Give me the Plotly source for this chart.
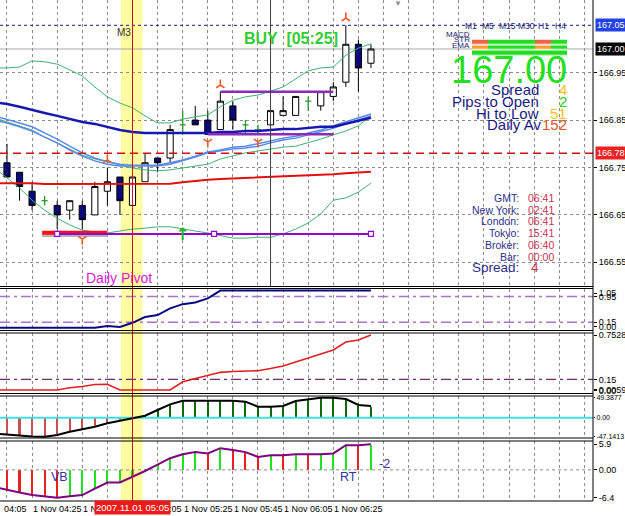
import plotly.graph_objects as go
import pandas as pd

# ---------------- data ----------------
times = [
    "2007-11-01 04:10", "2007-11-01 04:15", "2007-11-01 04:20", "2007-11-01 04:25", "2007-11-01 04:30",
    "2007-11-01 04:35", "2007-11-01 04:40", "2007-11-01 04:45", "2007-11-01 04:50", "2007-11-01 04:55",
    "2007-11-01 05:00", "2007-11-01 05:05", "2007-11-01 05:10", "2007-11-01 05:15", "2007-11-01 05:20",
    "2007-11-01 05:25", "2007-11-01 05:30", "2007-11-01 05:35", "2007-11-01 05:40", "2007-11-01 05:45",
    "2007-11-01 05:50", "2007-11-01 05:55", "2007-11-01 06:00", "2007-11-01 06:05", "2007-11-01 06:10",
    "2007-11-01 06:15", "2007-11-01 06:20", "2007-11-01 06:25", "2007-11-01 06:30", "2007-11-01 06:35",
    "2007-11-01 06:40"]
candle_times = times[1:]

opens = [166.76, 166.74, 166.70, 166.68, 166.67, 166.66, 166.67, 166.65, 166.70, 166.73,
         166.67, 166.72, 166.77, 166.77, 166.84, 166.85, 166.85, 166.83, 166.88, 166.84,
         166.83, 166.84, 166.86, 166.86, 166.89, 166.88, 166.90, 166.93, 167.01, 166.97]
highs = [166.80, 166.74, 166.72, 166.69, 166.68, 166.68, 166.68, 166.72, 166.75, 166.73,
         166.73, 166.78, 166.77, 166.84, 166.87, 166.88, 166.87, 166.91, 166.89, 166.85,
         166.84, 166.87, 166.90, 166.90, 166.90, 166.91, 166.93, 167.05, 167.02, 167.01]
lows = [166.73, 166.68, 166.66, 166.67, 166.62, 166.64, 166.62, 166.65, 166.67, 166.65,
        166.67, 166.72, 166.74, 166.76, 166.82, 166.84, 166.82, 166.83, 166.83, 166.82,
        166.82, 166.84, 166.86, 166.86, 166.87, 166.87, 166.89, 166.92, 166.91, 166.96]
closes = [166.73, 166.71, 166.67, 166.68, 166.65, 166.68, 166.64, 166.71, 166.72, 166.68,
          166.73, 166.76, 166.76, 166.83, 166.84, 166.84, 166.82, 166.89, 166.85, 166.84,
          166.83, 166.87, 166.87, 166.90, 166.89, 166.91, 166.92, 167.01, 166.96, 167.00]

bb_upper = [166.960, 166.960, 166.962, 166.975, 166.973, 166.968, 166.956, 166.943, 166.920, 166.899,
            166.886, 166.876, 166.859, 166.844, 166.844, 166.852, 166.857, 166.861, 166.878, 166.892,
            166.899, 166.903, 166.911, 166.920, 166.937, 166.954, 166.960, 166.962, 166.987, 167.002, 167.011]
bb_lower = [166.749, 166.728, 166.707, 166.681, 166.660, 166.643, 166.629, 166.618, 166.614, 166.612,
            166.616, 166.620, 166.622, 166.625, 166.625, 166.620, 166.616, 166.612, 166.606, 166.601,
            166.601, 166.603, 166.603, 166.610, 166.620, 166.633, 166.652, 166.681, 166.686, 166.698, 166.717]
bb_mid = [166.855, 166.846, 166.838, 166.829, 166.814, 166.802, 166.789, 166.776, 166.768, 166.762,
          166.755, 166.749, 166.745, 166.743, 166.745, 166.749, 166.753, 166.757, 166.768, 166.774,
          166.781, 166.785, 166.789, 166.793, 166.795, 166.802, 166.810, 166.819, 166.827, 166.838, 166.859]
ema_fast_a = [166.859, 166.852, 166.844, 166.836, 166.823, 166.810, 166.795, 166.781, 166.770, 166.762,
              166.757, 166.755, 166.755, 166.755, 166.760, 166.766, 166.774, 166.783, 166.787, 166.793,
              166.795, 166.800, 166.806, 166.812, 166.816, 166.823, 166.829, 166.838, 166.846, 166.855, 166.863]
ema_fast_b = [166.850, 166.844, 166.836, 166.827, 166.814, 166.802, 166.787, 166.774, 166.764, 166.757,
              166.753, 166.753, 166.753, 166.753, 166.757, 166.764, 166.772, 166.781, 166.785, 166.789,
              166.791, 166.795, 166.802, 166.808, 166.812, 166.819, 166.825, 166.833, 166.842, 166.850, 166.859]
ema_slow = [166.888, 166.884, 166.878, 166.871, 166.865, 166.859, 166.852, 166.846, 166.842, 166.836,
            166.829, 166.825, 166.823, 166.823, 166.823, 166.823, 166.823, 166.823, 166.825, 166.825,
            166.827, 166.827, 166.829, 166.831, 166.831, 166.833, 166.836, 166.836, 166.842, 166.848, 166.855]
ma_red = [166.717, 166.717, 166.717, 166.717, 166.715, 166.715, 166.715, 166.715, 166.715, 166.715,
          166.716, 166.716, 166.716, 166.716, 166.716, 166.719, 166.722, 166.724, 166.726, 166.727,
          166.728, 166.729, 166.730, 166.731, 166.732, 166.733, 166.734, 166.736, 166.738, 166.739, 166.741]

pivot_price = 166.61
pivot_times = ["2007-11-01 04:35", "2007-11-01 05:37:30", "2007-11-01 06:40"]
daily_pivot_seg = ["2007-11-01 04:29", "2007-11-01 04:55"]
daily_pivot_price = 166.6125
box_top_times = ["2007-11-01 05:40", "2007-11-01 06:25"]
box_top_price = 166.91
box_bot_times = ["2007-11-01 05:35", "2007-11-01 06:25"]
box_bot_price = 166.82
ask_price, bid_price, open_price = 167.05, 167.00, 166.78

up_frac_t = ["2007-11-01 04:55", "2007-11-01 05:40", "2007-11-01 06:30"]
up_frac_p = [166.766, 166.924, 167.065]
dn_frac_t = ["2007-11-01 04:45", "2007-11-01 05:35", "2007-11-01 05:55"]
dn_frac_p = [166.599, 166.804, 166.804]
buy_arrow_t, buy_arrow_p = "2007-11-01 05:25", 166.607

p2_line = [-0.02, -0.02, -0.02, -0.02, -0.02, -0.02, -0.02, -0.02, -0.02, 0.03,
           0.0, 0.13, 0.31, 0.37, 0.58, 0.71, 0.76, 0.89, 1.13, 1.13,
           1.13, 1.13, 1.13, 1.13, 1.13, 1.13, 1.13, 1.13, 1.13, 1.13, 1.13]
p2_levels = [0.95, 0.15]
p3_line = [0.0059, 0.0059, 0.0059, 0.0059, 0.0059, 0.0059, 0.037, 0.053, 0.080, 0.083,
           0.0059, 0.0059, 0.0059, 0.0059, 0.0059, 0.118, 0.162, 0.196, 0.246, 0.257,
           0.264, 0.268, 0.298, 0.332, 0.386, 0.441, 0.495, 0.550, 0.659, 0.686, 0.7528]
p3_levels = [0.15]
p4_line = [-39.2, -41.7, -44.9, -46.8, -47.1413, -42.9, -34.8, -28.8, -22.4, -14.0,
           -7.5, -1.6, 4.8, 18.9, 33.0, 42.0, 42.0, 42.0, 42.0, 42.0,
           39.5, 27.1, 27.1, 28.8, 41.2, 45.4, 49.3877, 49.2, 46.2, 31.3, 28.8]
p4_hist = [-37.5, -39.8, -43.0, -45.0, -45.2, -41.0, -33.0, -27.2, -21.0, -13.0,
           -7.0, -1.5, 4.5, 18.0, 31.5, 40.0, 40.5, 40.2, 40.6, 40.3,
           38.0, 26.0, 26.0, 27.5, 39.5, 43.5, 47.5, 47.5, 44.5, 30.0, 27.5]
p5_line = [-3.94, -4.5, -5.2, -5.8, -6.1, -6.4, -6.1, -5.8, -4.3, -2.9,
           -2.9, -1.6, -0.25, 1.2, 2.7, 3.6, 4.1, 3.8, 5.0, 4.6,
           4.1, 3.0, 3.4, 3.4, 3.6, 3.6, 3.6, 3.8, 5.7, 5.7, 5.9]
p5_bars = [-3.9, -4.4, -5.1, -5.7, -6.0, -6.3, -6.0, -5.7, -4.2, -2.8,
           -2.8, -1.5, -0.2, 1.1, 2.6, 3.5, 4.0, 3.7, 4.9, 4.5,
           4.0, 2.9, 3.3, 3.3, 3.5, 3.5, 3.5, 3.7, 5.6, 5.6, 5.8]
p5_up = [0, 0, 0, 0, 0, 0, 1, 1, 1, 1,
         1, 1, 1, 1, 1, 1, 1, 0, 1, 0,
         0, 0, 1, 0, 1, 0, 1, 1, 1, 0, 1]

tf_labels = ["M1", "M5", "M15", "M30", "H1", "H4"]
row_labels = ["MACD", "STR", "EMA"]
signal_grid = [[1, 0, 0, 0, 1, 0],     # 0 green, 1 red, 2 orange
               [2, 0, 0, 0, 2, 0],
               [0, 0, 0, 0, 0, 0]]

big_price = "167.00"
stats_labels = ["Spread", "Pips to Open", "Hi to Low", "Daily Av"]
stats_values = ["4", "2", "51", "152"]
stats_colors = ["#F2C21B", "#22CC22", "#F2C21B", "#E5532A"]

clock_labels = ["GMT:", "New York:", "London:", "Tokyo:", "Broker:", "Bar:"]
clock_values = ["06:41", "02:41", "06:41", "15:41", "06:40", "00:00"]

x_tick_times = ["2007-11-01 04:25", "2007-11-01 04:45", "2007-11-01 05:05", "2007-11-01 05:25",
                "2007-11-01 05:45", "2007-11-01 06:05", "2007-11-01 06:25"]
x_tick_text = ["1 Nov 04:25", "1 Nov 04:45", "1 Nov 05:05", "1 Nov 05:25",
               "1 Nov 05:45", "1 Nov 06:05", "1 Nov 06:25"]
main_ticks = [166.55, 166.65, 166.75, 166.85, 166.95]

# ---------------- geometry ----------------
W, H = 625, 516
MR, MB = 32, 15
PW, PH = W - MR, H - MB
FONT = "Liberation Sans, Arial, sans-serif"
NARROW = "Liberation Sans Narrow, Arial Narrow, Liberation Sans, sans-serif"


def px(x):
    return x / PW


def py(y):
    return (PH - y) / PH


X_RANGE = ["2007-11-01 04:12:13", "2007-11-01 08:08:28"]
grid_ticks = list(pd.date_range("2007-11-01 04:15", "2007-11-01 08:05", freq="10min"))

panels = {  # pixel top, bottom, value range
    "y": (0, 286.5, [166.499, 167.1034]),
    "y2": (288.5, 330.5, [-0.109, 1.196]),
    "y3": (333, 393.5, [-0.042, 0.781]),
    "y4": (396, 438, [-50.4, 53.6]),
    "y5": (441, 501, [-7.17, 6.66]),
}

fig = go.Figure()

# ---------- main panel ----------
nd = [i for i in range(len(opens)) if opens[i] != closes[i]]
dj = [i for i in range(len(opens)) if opens[i] == closes[i]]
fig.add_trace(go.Candlestick(
    x=[candle_times[i] for i in nd], open=[opens[i] for i in nd], high=[highs[i] for i in nd],
    low=[lows[i] for i in nd], close=[closes[i] for i in nd],
    increasing=dict(fillcolor="white", line=dict(color="black", width=1)),
    decreasing=dict(fillcolor="#0A0A7A", line=dict(color="black", width=1)),
    xaxis="x", yaxis="y", hoverinfo="skip"))
fig.add_trace(go.Candlestick(
    x=[candle_times[i] for i in dj], open=[opens[i] for i in dj], high=[highs[i] for i in dj],
    low=[lows[i] for i in dj], close=[closes[i] for i in dj],
    increasing=dict(fillcolor="#2A9A2A", line=dict(color="#2A9A2A", width=1.3)),
    decreasing=dict(fillcolor="#2A9A2A", line=dict(color="#2A9A2A", width=1.3)),
    xaxis="x", yaxis="y", hoverinfo="skip"))


def line(y, color, width, xs=times, dash=None, ax="", mode="lines"):
    fig.add_trace(go.Scatter(x=xs, y=y, mode=mode, line=dict(color=color, width=width, dash=dash),
                             xaxis="x" + ax, yaxis="y" + ax, hoverinfo="skip"))


line(bb_upper, "#3CB371", 1)
line(bb_lower, "#3CB371", 1)
line(bb_mid, "#3CB371", 1)
line(ma_red, "#E01010", 2)
line(ema_fast_b, "#5A8AE8", 1.5)
line(ema_fast_a, "#5A8AE8", 1.5)
line(ema_slow, "#1818B0", 2.5)

# daily pivot shadow + red segment
line([daily_pivot_price - 0.006] * 2, "#B4B4B4", 3, xs=daily_pivot_seg)
line([daily_pivot_price] * 2, "#FF1010", 4, xs=daily_pivot_seg)
# pivot trend line (selected) with square handles
fig.add_trace(go.Scatter(x=[pivot_times[0], pivot_times[-1]], y=[pivot_price] * 2, mode="lines",
                         line=dict(color="#9400D3", width=2), xaxis="x", yaxis="y", hoverinfo="skip"))
fig.add_trace(go.Scatter(x=pivot_times, y=[pivot_price] * 3, mode="markers",
                         marker=dict(symbol="square", size=5, color="white",
                                     line=dict(color="#9400D3", width=1.2)),
                         xaxis="x", yaxis="y", hoverinfo="skip"))
line([box_top_price] * 2, "#8B2BB8", 2.5, xs=box_top_times)
line([box_bot_price] * 2, "#8B2BB8", 2.5, xs=box_bot_times)

# fractals (open symbols are stroked with marker.color)
fig.add_trace(go.Scatter(x=up_frac_t, y=up_frac_p, mode="markers",
                         marker=dict(symbol="y-up-open", size=7, color="#EE5A24", line=dict(width=1.6)),
                         xaxis="x", yaxis="y", hoverinfo="skip"))
fig.add_trace(go.Scatter(x=dn_frac_t, y=dn_frac_p, mode="markers",
                         marker=dict(symbol="y-down-open", size=7, color="#EE5A24", line=dict(width=1.6)),
                         xaxis="x", yaxis="y", hoverinfo="skip"))
fig.add_trace(go.Scatter(x=[buy_arrow_t], y=[buy_arrow_p], mode="text", text=["<b>↑</b>"],
                         textfont=dict(size=17, color="#22B822", family="DejaVu Sans"),
                         xaxis="x", yaxis="y", hoverinfo="skip"))

# ---------- panel 2 ----------
for lv in p2_levels:
    fig.add_trace(go.Scatter(x=X_RANGE, y=[lv, lv], mode="lines",
                             line=dict(color="#A775C9", width=1.5, dash="10px,4px,3px,4px"),
                             xaxis="x2", yaxis="y2", hoverinfo="skip"))
line(p2_line, "#0A0A80", 2, ax="2")

# ---------- panel 3 ----------
for lv in p3_levels:
    fig.add_trace(go.Scatter(x=X_RANGE, y=[lv, lv], mode="lines",
                             line=dict(color="#6E2C6E", width=1.3, dash="10px,4px,3px,4px"),
                             xaxis="x3", yaxis="y3", hoverinfo="skip"))
line(p3_line, "#E02020", 1.6, ax="3")

# ---------- panel 4 ----------
fig.add_trace(go.Bar(x=times, y=p4_hist, width=50000,
                     marker=dict(color=["#C85050" if v < 0 else "#0B6B0B" for v in p4_hist], line=dict(width=0)),
                     xaxis="x4", yaxis="y4", hoverinfo="skip"))
fig.add_trace(go.Scatter(x=X_RANGE, y=[0, 0], mode="lines", line=dict(color="#40E0E0", width=2),
                         xaxis="x4", yaxis="y4", hoverinfo="skip"))
line(p4_line, "#000000", 2, ax="4")

# ---------- panel 5 ----------
fig.add_trace(go.Scatter(x=X_RANGE, y=[0, 0], mode="lines",
                         line=dict(color="#8C8C8C", width=1, dash="dot"),
                         xaxis="x5", yaxis="y5", hoverinfo="skip"))
fig.add_trace(go.Bar(x=times, y=p5_bars, width=50000,
                     marker=dict(color=["#22E022" if u else "#E82020" for u in p5_up], line=dict(width=0)),
                     xaxis="x5", yaxis="y5", hoverinfo="skip"))
line(p5_line, "#800080", 2, ax="5")

# ---------- signal grid (heatmap) ----------
fig.add_trace(go.Heatmap(z=signal_grid, x=list(range(6)), y=list(range(3)),
                         colorscale=[[0, "#22DD22"], [0.5, "#F06448"], [1, "#F5A030"]],
                         zmin=0, zmax=2, showscale=False, ygap=1.5, xaxis="x6", yaxis="y6",
                         hoverinfo="skip"))

# ---------- axes ----------
layout = dict(width=W, height=H, margin=dict(l=0, r=MR, t=0, b=MB, pad=0, autoexpand=False),
              paper_bgcolor="white", plot_bgcolor="white", showlegend=False,
              font=dict(family=FONT, size=9, color="black"), boxgap=0.3, bargap=0)
for k, (top, bot, rng) in panels.items():
    n = k[1:]
    xa = "xaxis" + n
    layout[xa] = dict(type="date", range=X_RANGE, tickvals=grid_ticks, showticklabels=False,
                      showgrid=True, gridcolor="#8C8C8C", griddash="dot", gridwidth=1,
                      zeroline=False, showline=False, ticks="", anchor="y" + n, domain=[0, 1],
                      rangeslider=dict(visible=False), fixedrange=True, automargin=False)
    if n:
        layout[xa]["matches"] = "x"
    layout["yaxis" + n] = dict(domain=[py(bot), py(top)], range=rng, side="right", anchor="x" + n,
                               showgrid=False, zeroline=False, showline=False, ticks="outside",
                               ticklen=3, tickcolor="black", tickfont=dict(size=9, family=NARROW),
                               fixedrange=True, automargin=False)
layout["yaxis"].update(tickvals=main_ticks, ticktext=[f"{v:.2f}" for v in main_ticks],
                       showgrid=True, gridcolor="#8C8C8C", griddash="dot", gridwidth=1)
layout["yaxis2"].update(tickvals=[0, 0.15, 0.95, 1.05], ticktext=["0.00", "0.15", "0.95", "1.05"])
layout["yaxis3"].update(tickvals=[0, 0.0059, 0.15, 0.7528], ticktext=["0.00", "0.0059", "0.15", "0.7528"])
layout["yaxis4"].update(tickvals=[-47.1413, 0, 49.3877], ticktext=["-47.1413", "0.00", "49.3877"],
                        ticklen=1, tickfont=dict(size=7, family=NARROW))
layout["yaxis5"].update(tickvals=[-6.4, 0, 5.9], ticktext=["-6.4", "0.00", "5.9"])
layout["xaxis6"] = dict(domain=[px(472), px(567)], anchor="y6", visible=False, range=[-0.5, 5.5],
                        fixedrange=True, automargin=False)
layout["yaxis6"] = dict(domain=[py(56), py(39.5)], anchor="x6", visible=False, range=[2.5, -0.5],
                        fixedrange=True, automargin=False)

# ---------- shapes ----------
shapes = []
shapes.append(dict(type="rect", xref="x", yref="paper", x0="2007-11-01 05:00:20", x1="2007-11-01 05:09:00",
                   y0=0, y1=1, fillcolor="#FFFBA0", line=dict(width=0), layer="below"))
shapes.append(dict(type="line", xref="x", yref="y", x0=X_RANGE[0], x1=X_RANGE[1], y0=ask_price, y1=ask_price,
                   line=dict(color="#1A1A8C", width=1, dash="dot")))
shapes.append(dict(type="line", xref="x", yref="y", x0=X_RANGE[0], x1=X_RANGE[1], y0=bid_price, y1=bid_price,
                   line=dict(color="#A8A8A8", width=1), layer="below"))
shapes.append(dict(type="line", xref="x", yref="y", x0=X_RANGE[0], x1=X_RANGE[1], y0=open_price, y1=open_price,
                   line=dict(color="#D01010", width=1.4, dash="8px,5px")))
shapes.append(dict(type="line", xref="x", yref="y domain", x0="2007-11-01 06:00", x1="2007-11-01 06:00",
                   y0=0, y1=1, line=dict(color="#404040", width=1)))
shapes.append(dict(type="line", xref="x", yref="paper", x0="2007-11-01 05:05", x1="2007-11-01 05:05",
                   y0=0, y1=1, line=dict(color="#D01010", width=1)))
for k, (top, bot, rng) in panels.items():
    shapes.append(dict(type="line", xref="paper", yref="paper", x0=0, x1=1, y0=py(bot), y1=py(bot),
                       line=dict(color="black", width=1)))
    if top > 0:
        shapes.append(dict(type="line", xref="paper", yref="paper", x0=0, x1=1, y0=py(top), y1=py(top),
                           line=dict(color="black", width=1)))
shapes.append(dict(type="line", xref="paper", yref="paper", x0=1, x1=1, y0=0, y1=1,
                   line=dict(color="black", width=1)))
layout["shapes"] = shapes

# ---------- annotations ----------
ann = []


def txt(s, x, y, size, color, xanchor="left", yanchor="middle", family=FONT):
    ann.append(dict(text=s, xref="paper", yref="paper", x=px(x), y=py(y), showarrow=False,
                    xanchor=xanchor, yanchor=yanchor, font=dict(family=family, size=size, color=color)))


txt("M3", 115, 32.5, 10, "#303030")
txt("▼", 398, 3, 8, "#909090", xanchor="center")
txt("<b>BUY  [05:25]</b>", 242, 38.5, 16, "#33CC33")
txt("Daily Pivot", 84, 278.5, 14, "#E018D8")
tf_x = [471, 487.5, 507, 526.5, 543, 560]
for lab, x in zip(tf_labels, tf_x):
    txt(lab, x, 26.3, 8.5, "#1A1A70", xanchor="center")
for lab, y in zip(row_labels, [34, 39.5, 46]):
    txt(lab, 472, y, 8, "#1A1A70", xanchor="right")
txt(big_price, 569, 70, 38, "#20E020", xanchor="right")
for lab, val, col, y in zip(stats_labels, stats_values, stats_colors, [90, 101.7, 113.3, 124.7]):
    txt(lab, 543 if lab == "Daily Av" else 541, y, 15, "#1A1A80", xanchor="right")
    txt(val, 569, y, 15, col, xanchor="right")
for lab, val, y in zip(clock_labels, clock_values, [197.5, 210, 221, 233, 245.5, 256.7]):
    txt(lab, 521, y, 10.5, "#2E2E8C", xanchor="right")
    txt(val, 525.5, y, 10.5, "#C8304E")
txt("Spread:", 521, 267, 13.5, "#2E2E8C", xanchor="right")
txt(stats_values[0], 529, 267, 13.5, "#C8304E")
txt("VB", 49, 477, 12.5, "#3434A0")
txt("RT", 338, 477, 12.5, "#3434A0")
txt("-2", 377, 463.5, 12.5, "#3434A0")

# x-axis labels
txt("04:05", 2, 508.5, 9, "black", family=NARROW)
for t, s in zip(x_tick_times, x_tick_text):
    ann.append(dict(text=s, xref="x5", yref="paper", x=t, y=py(508.5), showarrow=False, xanchor="left",
                    yanchor="middle", xshift=-1, font=dict(family=NARROW, size=9, color="black")))
ann.append(dict(text="2007.11.01 05:05", xref="x5", yref="paper", x="2007-11-01 05:05", y=py(508),
                showarrow=False, xanchor="center", yanchor="middle", bgcolor="#EE1A1A", borderpad=1,
                font=dict(family=FONT, size=9.5, color="white")))

# price boxes on the right axis
for price, bg in [(ask_price, "#2242E8"), (bid_price, "#000000"), (open_price, "#EE2020")]:
    ann.append(dict(text=f"{price:.2f}", xref="paper", yref="y", x=1, y=price, showarrow=False,
                    xanchor="left", yanchor="middle", xshift=2, bgcolor=bg, borderpad=1,
                    font=dict(family=NARROW, size=9, color="white")))
layout["annotations"] = ann

fig.update_layout(**layout)
fig.write_html("out.html")
